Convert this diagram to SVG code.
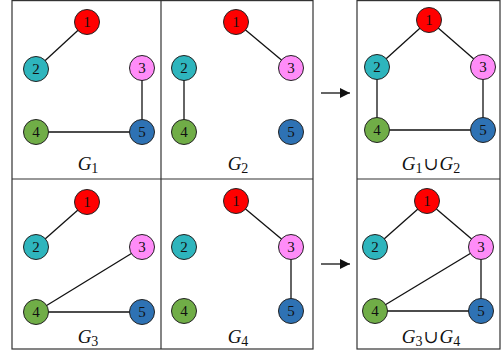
<svg xmlns="http://www.w3.org/2000/svg" width="501" height="356" viewBox="0 0 501 356">
<defs>
<style>
.frame{fill:none;stroke:#333;stroke-width:1.2}
.edge{stroke:#111;stroke-width:1.3;fill:none}
.n circle{stroke:#222;stroke-width:1}
.n text{font-family:"Liberation Serif",serif;font-size:15px;text-anchor:middle;fill:#111}
.c1{fill:#FF0000}.c2{fill:#2EB5BD}.c3{fill:#FF8CF8}.c4{fill:#70AD47}.c5{fill:#2E72B4}
.lbl{font-family:"Liberation Serif",serif;font-size:19px;text-anchor:middle;fill:#111}
.lbl .g{font-style:italic}
.lbl .u{font-family:"DejaVu Serif",serif;font-size:18px}
</style>
<marker id="ah" viewBox="0 0 10 10" refX="10" refY="5" markerWidth="10" markerHeight="10" markerUnits="userSpaceOnUse" orient="auto">
<path d="M0,0 L10,5 L0,10 Z" fill="#111"/>
</marker>
</defs>
<rect width="501" height="356" fill="#fff"/>
<g id="frames">
<rect class="frame" x="12" y="0.6" width="301" height="348.4"/>
<line class="frame" x1="161" y1="0.6" x2="161" y2="349"/>
<line class="frame" x1="12" y1="179" x2="313" y2="179"/>
<rect class="frame" x="357" y="0.6" width="143" height="348.4"/>
<line class="frame" x1="357" y1="179" x2="500" y2="179"/>
</g>
<g id="connectors">
<line class="edge" x1="87" y1="22" x2="36" y2="69"/>
<line class="edge" x1="142" y1="68" x2="142" y2="132"/>
<line class="edge" x1="36" y1="132" x2="142" y2="132"/>
<line class="edge" x1="236" y1="22" x2="291" y2="68"/>
<line class="edge" x1="184" y1="68" x2="184" y2="132"/>
<line class="edge" x1="429" y1="20" x2="377" y2="67"/>
<line class="edge" x1="429" y1="20" x2="483" y2="67"/>
<line class="edge" x1="377" y1="67" x2="377" y2="130"/>
<line class="edge" x1="483" y1="67" x2="483" y2="130"/>
<line class="edge" x1="377" y1="130" x2="483" y2="130"/>
<line class="edge" x1="87" y1="202" x2="36" y2="247"/>
<line class="edge" x1="142" y1="247" x2="36" y2="312"/>
<line class="edge" x1="36" y1="312" x2="142" y2="312"/>
<line class="edge" x1="236" y1="201" x2="291" y2="247"/>
<line class="edge" x1="291" y1="247" x2="291" y2="311"/>
<line class="edge" x1="427" y1="201" x2="375" y2="247"/>
<line class="edge" x1="427" y1="201" x2="481" y2="247"/>
<line class="edge" x1="481" y1="247" x2="375" y2="311"/>
<line class="edge" x1="481" y1="247" x2="481" y2="311"/>
<line class="edge" x1="375" y1="311" x2="481" y2="311"/>
<line class="edge" x1="321" y1="93" x2="350" y2="93" marker-end="url(#ah)"/>
<line class="edge" x1="321" y1="264" x2="350" y2="264" marker-end="url(#ah)"/>
</g>
<g id="g1n1" class="n"><circle class="c1" cx="87" cy="22" r="12.5"/><text x="87" y="27">1</text></g>
<g id="g1n2" class="n"><circle class="c2" cx="36" cy="69" r="12.5"/><text x="36" y="74">2</text></g>
<g id="g1n3" class="n"><circle class="c3" cx="142" cy="68" r="12.5"/><text x="142" y="73">3</text></g>
<g id="g1n4" class="n"><circle class="c4" cx="36" cy="132" r="12.5"/><text x="36" y="137">4</text></g>
<g id="g1n5" class="n"><circle class="c5" cx="142" cy="132" r="12.5"/><text x="142" y="137">5</text></g>
<g id="g2n1" class="n"><circle class="c1" cx="236" cy="22" r="12.5"/><text x="236" y="27">1</text></g>
<g id="g2n2" class="n"><circle class="c2" cx="184" cy="68" r="12.5"/><text x="184" y="73">2</text></g>
<g id="g2n3" class="n"><circle class="c3" cx="291" cy="68" r="12.5"/><text x="291" y="73">3</text></g>
<g id="g2n4" class="n"><circle class="c4" cx="184" cy="132" r="12.5"/><text x="184" y="137">4</text></g>
<g id="g2n5" class="n"><circle class="c5" cx="291" cy="132" r="12.5"/><text x="291" y="137">5</text></g>
<g id="u1n1" class="n"><circle class="c1" cx="429" cy="20" r="12.5"/><text x="429" y="25">1</text></g>
<g id="u1n2" class="n"><circle class="c2" cx="377" cy="67" r="12.5"/><text x="377" y="72">2</text></g>
<g id="u1n3" class="n"><circle class="c3" cx="483" cy="67" r="12.5"/><text x="483" y="72">3</text></g>
<g id="u1n4" class="n"><circle class="c4" cx="377" cy="130" r="12.5"/><text x="377" y="135">4</text></g>
<g id="u1n5" class="n"><circle class="c5" cx="483" cy="130" r="12.5"/><text x="483" y="135">5</text></g>
<g id="g3n1" class="n"><circle class="c1" cx="87" cy="202" r="12.5"/><text x="87" y="207">1</text></g>
<g id="g3n2" class="n"><circle class="c2" cx="36" cy="247" r="12.5"/><text x="36" y="252">2</text></g>
<g id="g3n3" class="n"><circle class="c3" cx="142" cy="247" r="12.5"/><text x="142" y="252">3</text></g>
<g id="g3n4" class="n"><circle class="c4" cx="36" cy="312" r="12.5"/><text x="36" y="317">4</text></g>
<g id="g3n5" class="n"><circle class="c5" cx="142" cy="312" r="12.5"/><text x="142" y="317">5</text></g>
<g id="g4n1" class="n"><circle class="c1" cx="236" cy="201" r="12.5"/><text x="236" y="206">1</text></g>
<g id="g4n2" class="n"><circle class="c2" cx="184" cy="247" r="12.5"/><text x="184" y="252">2</text></g>
<g id="g4n3" class="n"><circle class="c3" cx="291" cy="247" r="12.5"/><text x="291" y="252">3</text></g>
<g id="g4n4" class="n"><circle class="c4" cx="184" cy="311" r="12.5"/><text x="184" y="316">4</text></g>
<g id="g4n5" class="n"><circle class="c5" cx="291" cy="311" r="12.5"/><text x="291" y="316">5</text></g>
<g id="u2n1" class="n"><circle class="c1" cx="427" cy="201" r="12.5"/><text x="427" y="206">1</text></g>
<g id="u2n2" class="n"><circle class="c2" cx="375" cy="247" r="12.5"/><text x="375" y="252">2</text></g>
<g id="u2n3" class="n"><circle class="c3" cx="481" cy="247" r="12.5"/><text x="481" y="252">3</text></g>
<g id="u2n4" class="n"><circle class="c4" cx="375" cy="311" r="12.5"/><text x="375" y="316">4</text></g>
<g id="u2n5" class="n"><circle class="c5" cx="481" cy="311" r="12.5"/><text x="481" y="316">5</text></g>
<g id="labels">
<text class="lbl" x="88" y="170"><tspan class="g">G</tspan><tspan font-size="14" dy="3">1</tspan></text>
<text class="lbl" x="238" y="170"><tspan class="g">G</tspan><tspan font-size="14" dy="3">2</tspan></text>
<text class="lbl" x="431" y="170"><tspan class="g">G</tspan><tspan font-size="14" dy="3">1</tspan><tspan class="u" dy="-3" dx="1">∪</tspan><tspan class="g" dx="1">G</tspan><tspan font-size="14" dy="3">2</tspan></text>
<text class="lbl" x="88" y="343"><tspan class="g">G</tspan><tspan font-size="14" dy="3">3</tspan></text>
<text class="lbl" x="238" y="343"><tspan class="g">G</tspan><tspan font-size="14" dy="3">4</tspan></text>
<text class="lbl" x="431" y="343"><tspan class="g">G</tspan><tspan font-size="14" dy="3">3</tspan><tspan class="u" dy="-3" dx="1">∪</tspan><tspan class="g" dx="1">G</tspan><tspan font-size="14" dy="3">4</tspan></text>
</g>
</svg>
